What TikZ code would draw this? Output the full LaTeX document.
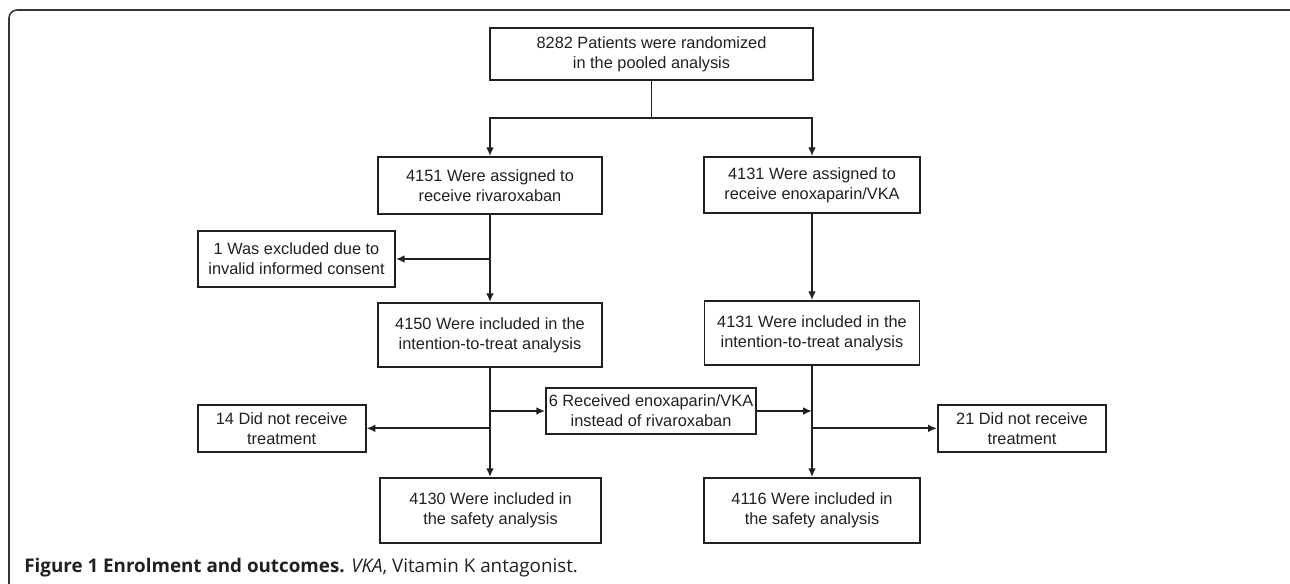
\documentclass[tikz,border=0pt]{standalone}
\usepackage{fontspec}
\setmainfont{Liberation Sans}
\newfontfamily\capfont{Open Sans}
\usepackage{xcolor}
\usetikzlibrary{arrows.meta,positioning,calc}
\definecolor{inkblack}{RGB}{35,31,32}

\begin{document}
\begin{tikzpicture}[
    x=0.02cm, y=-0.02cm,
    stepbox/.style={rectangle, draw=inkblack, line width=1pt, text=inkblack, align=center, inner sep=0pt, font=\fontsize{9.3}{11.4}\selectfont},
    arrow/.style={-{Latex[length=5pt,width=4.4pt]}, line width=1pt, draw=inkblack},
    link/.style={line width=1pt, draw=inkblack},
    frame/.style={line width=0.9pt, draw=inkblack!90, rounded corners=0.16cm}
]
\clip (0,0) rectangle (1290,583);

% Frame
\draw[frame] (9,600) -- (9,10) -- (1298,10) -- (1298,600);

% Randomization
\node[stepbox, minimum width=6.46cm, minimum height=1.04cm] (pooled) at (651.5,54) {8282 Patients were randomized\\in the pooled analysis};
\coordinate (split) at (651.5,118);

% Assigned
\node[stepbox, minimum width=4.48cm, minimum height=1.14cm] (rivaro) at (490,185.5) {4151 Were assigned to\\receive rivaroxaban};
\node[stepbox, minimum width=4.32cm, minimum height=1.12cm] (enoxa) at (812,185) {4131 Were assigned to\\receive enoxaparin/VKA};
\node[stepbox, minimum width=3.94cm, minimum height=1.12cm] (excluded) at (296.5,259) {1 Was excluded due to\\invalid informed consent};

% Intention-to-treat
\node[stepbox, minimum width=4.48cm, minimum height=1.28cm] (ittrivaro) at (490,335) {4150 Were included in the\\intention-to-treat analysis};
\node[stepbox, minimum width=4.3cm, minimum height=1.28cm] (ittenoxa) at (812,333) {4131 Were included in the\\intention-to-treat analysis};

% Treatment
\node[stepbox, minimum width=3.36cm, minimum height=0.94cm] (notrecrivaro) at (281.7,428.3) {14 Did not receive\\treatment};
\node[stepbox, minimum width=4.2cm, minimum height=0.92cm] (switched) at (651,411) {6 Received enoxaparin/VKA\\instead of rivaroxaban};
\node[stepbox, minimum width=3.37cm, minimum height=0.94cm] (notrecenoxa) at (1022,428.3) {21 Did not receive\\treatment};

% Safety
\node[stepbox, minimum width=4.42cm, minimum height=1.3cm] (saferivaro) at (490.5,510.5) {4130 Were included in\\the safety analysis};
\node[stepbox, minimum width=4.32cm, minimum height=1.3cm] (safeenoxa) at (812,510.5) {4116 Were included in\\the safety analysis};

% Caption
\node[anchor=west, inner sep=0pt, text=inkblack, font=\capfont\fontsize{10.7}{12}\selectfont] (caption) at (24,568) {\textbf{Figure 1 Enrolment and outcomes.} \textit{VKA}, Vitamin K antagonist.};

% Connections
\draw[link] (pooled.south) -- (split);
\draw[arrow] (split) -| (rivaro.north);
\draw[arrow] (split) -| (enoxa.north);
\draw[arrow] (rivaro.south) -- (rivaro.south |- ittrivaro.north);
\draw[arrow] (rivaro.south |- excluded.east) -- (excluded.east);
\draw[arrow] (enoxa.south) -- (enoxa.south |- ittenoxa.north);
\draw[arrow] (ittrivaro.south) -- (ittrivaro.south |- saferivaro.north);
\draw[arrow] (ittrivaro.south |- notrecrivaro.east) -- (notrecrivaro.east);
\draw[arrow] (ittrivaro.south |- switched.west) -- (switched.west);
\draw[arrow] (switched.east) -- (switched.east -| ittenoxa.south);
\draw[arrow] (ittenoxa.south) -- (ittenoxa.south |- safeenoxa.north);
\draw[arrow] (ittenoxa.south |- notrecenoxa.west) -- (notrecenoxa.west);

\end{tikzpicture}
\end{document}
